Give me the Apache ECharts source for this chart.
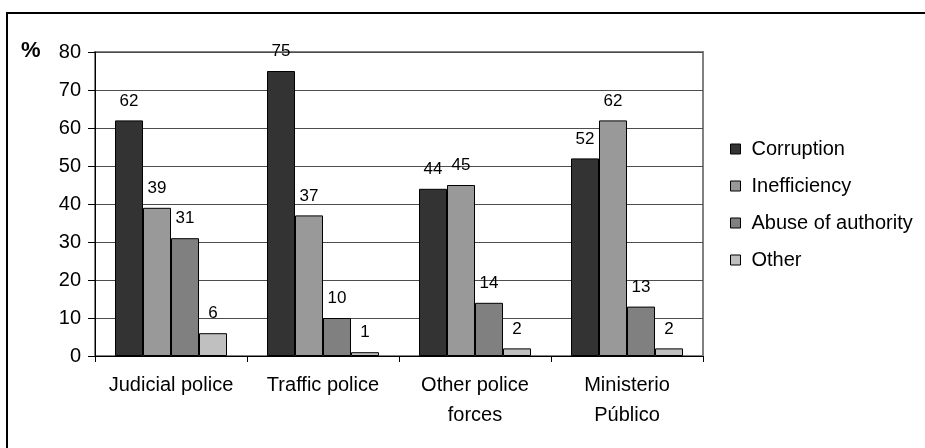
<!DOCTYPE html>
<html>
<head>
<meta charset="utf-8">
<script src="https://cdn.jsdelivr.net/npm/echarts@6/dist/echarts.min.js"></script>
<style>
  html, body { margin: 0; padding: 0; background: #fff; }
  #chart { width: 925px; height: 448px; }
</style>
</head>
<body>
<div id="chart"></div>
<script>
// Institutions rated and the reasons given (percent of respondents)
const categories = ['Judicial police', 'Traffic police', 'Other police\nforces', 'Ministerio\nPúblico'];
const corruption = [62, 75, 44, 52];
const inefficiency = [39, 37, 45, 62];
const abuseOfAuthority = [31, 10, 14, 13];
const other = [6, 1, 2, 2];
const yTicks = { min: 0, max: 80, interval: 10 };

const FONT = '"Liberation Sans", Arial, sans-serif';

function barSeries(name, data, color) {
  return {
    name: name,
    type: 'bar',
    data: data,
    barWidth: 28,
    barGap: '0%',
    itemStyle: { color: color, borderColor: '#000', borderWidth: 1 },
    label: {
      show: true,
      position: 'top',
      distance: 11,
      color: '#000',
      fontFamily: FONT,
      fontSize: 17
    }
  };
}

const chart = echarts.init(document.getElementById('chart'), null, { renderer: 'canvas' });
chart.setOption({
  animation: false,
  backgroundColor: '#fff',
  grid: {
    left: 95, right: 222, top: 52, bottom: 92,
    show: true, borderColor: '#808080', borderWidth: 2, backgroundColor: 'transparent'
  },
  graphic: [
    {
      type: 'polyline',
      shape: { points: [[7, 448], [7, 13], [925, 13]] },
      style: { stroke: '#000', lineWidth: 2, fill: null },
      silent: true
    },
    {
      type: 'text',
      left: 21, top: 40,
      style: { text: '%', fill: '#000', font: 'bold 22px ' + FONT }
    }
  ],
  legend: {
    orient: 'vertical',
    left: 725,
    top: 134,
    itemWidth: 10,
    itemHeight: 10,
    itemGap: 17,
    icon: 'rect',
    itemStyle: { borderColor: '#000', borderWidth: 1 },
    textStyle: { color: '#000', fontFamily: FONT, fontSize: 20, lineHeight: 20, padding: [0, 0, 0, 6] },
    data: ['Corruption', 'Inefficiency', 'Abuse of authority', 'Other']
  },
  xAxis: {
    type: 'category',
    data: categories,
    axisLine: { lineStyle: { color: '#000', width: 1 } },
    axisTick: { show: true, length: 6, lineStyle: { color: '#000' } },
    axisLabel: { color: '#000', fontFamily: FONT, fontSize: 20, lineHeight: 30, margin: 14, interval: 0 },
    splitLine: { show: false }
  },
  yAxis: {
    type: 'value',
    min: yTicks.min, max: yTicks.max, interval: yTicks.interval,
    axisLine: { show: true, lineStyle: { color: '#000', width: 1 } },
    axisTick: { show: true, length: 7, lineStyle: { color: '#000' } },
    axisLabel: { color: '#000', fontFamily: FONT, fontSize: 20, margin: 14 },
    splitLine: { show: true, lineStyle: { color: '#4d4d4d', width: 1 } }
  },
  series: [
    barSeries('Corruption', corruption, '#333333'),
    barSeries('Inefficiency', inefficiency, '#999999'),
    barSeries('Abuse of authority', abuseOfAuthority, '#808080'),
    barSeries('Other', other, '#c0c0c0')
  ]
});
</script>
</body>
</html>
